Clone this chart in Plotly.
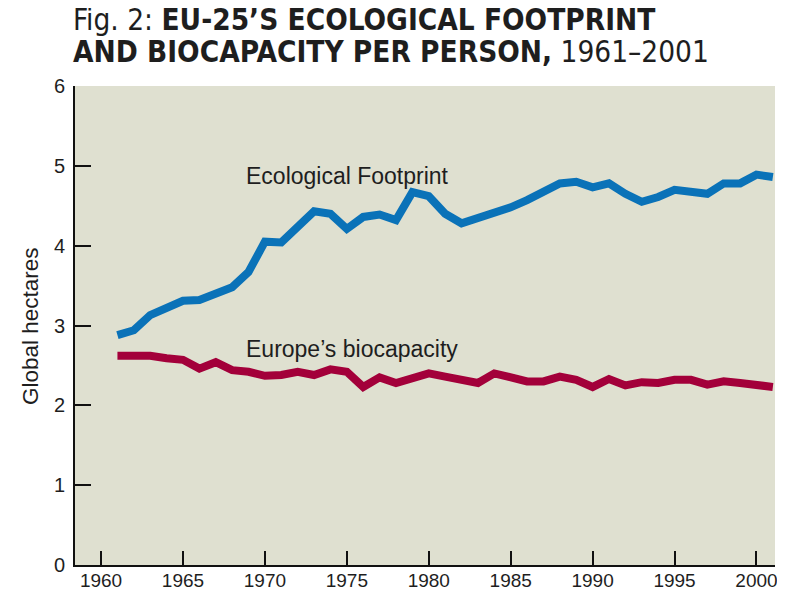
import plotly.graph_objs as go

years = list(range(1961, 2002))

# Ecological Footprint, global hectares per person
footprint = [2.88, 2.94, 3.13, 3.21, 3.31, 3.32, 3.40, 3.48, 3.67, 4.05,
             4.04, 4.25, 4.43, 4.40, 4.21, 4.36, 4.39, 4.32, 4.67, 4.62,
             4.40, 4.28, 4.34, 4.40, 4.48, 4.57, 4.67, 4.78, 4.80, 4.73,
             4.78, 4.65, 4.55, 4.61, 4.70, 4.68, 4.65, 4.78, 4.78, 4.89,
             4.86]

# Europe's biocapacity
biocapacity = [2.62, 2.62, 2.62, 2.59, 2.57, 2.46, 2.54, 2.44, 2.42, 2.37,
               2.38, 2.42, 2.38, 2.45, 2.42, 2.23, 2.35, 2.28, 2.35, 2.40,
               2.36, 2.33, 2.28, 2.40, 2.35, 2.30, 2.30, 2.36, 2.32, 2.23,
               2.33, 2.25, 2.29, 2.28, 2.32, 2.32, 2.26, 2.30, 2.28, 2.26,
               2.23]

x_ticks = [1960, 1965, 1970, 1975, 1980, 1985, 1990, 1995, 2000]
y_ticks = [0, 1, 2, 3, 4, 5, 6]

BLUE = '#0a72b8'
RED = '#a3003a'
INK = '#1e1e1e'
FONT = 'Liberation Sans, Arial, sans-serif'
NARROW = 'DejaVu Sans Condensed, Arial Narrow, sans-serif'

# the page body has an 8px margin, so the figure is a bit smaller than the window
fig = go.Figure()
fig.add_trace(go.Scatter(x=years, y=footprint, mode='lines', name='Ecological Footprint',
                         line=dict(color=BLUE, width=8)))
fig.add_trace(go.Scatter(x=years, y=biocapacity, mode='lines', name="Europe's biocapacity",
                         line=dict(color=RED, width=8)))

# series labels sit right on the plot
fig.add_annotation(x=1968.7, y=4.875, text='Ecological Footprint', showarrow=False,
                   xanchor='left', yanchor='middle', font=dict(family=FONT, size=23, color=INK))
fig.add_annotation(x=1968.7, y=2.70, text='Europe\u2019s biocapacity', showarrow=False,
                   xanchor='left', yanchor='middle', font=dict(family=FONT, size=23, color=INK))

# y-axis title placed by hand, like the original
fig.add_annotation(xref='paper', yref='paper', x=-45 / 700, y=(565 - 326) / 479,
                   text='Global hectares', textangle=-90, showarrow=False,
                   xanchor='center', yanchor='middle',
                   font=dict(family=FONT, size=22.5, color=INK))

# two-line title, left aligned with the axis
fig.add_annotation(xref='paper', yref='paper', x=-4 / 700, y=(565 - 20) / 479,
                   text='Fig. 2: <b>EU-25\u2019S ECOLOGICAL FOOTPRINT</b>', showarrow=False,
                   xanchor='left', yanchor='middle', font=dict(family=NARROW, size=29.5, color=INK))
fig.add_annotation(xref='paper', yref='paper', x=-4 / 700, y=(565 - 52) / 479,
                   text='<b>AND BIOCAPACITY PER PERSON,</b> 1961\u20132001', showarrow=False,
                   xanchor='left', yanchor='middle', font=dict(family=NARROW, size=29.5, color=INK))

fig.update_layout(
    width=777, height=585,
    margin=dict(l=67, r=10, t=78, b=28),
    paper_bgcolor='white', plot_bgcolor='#dfe0d0',
    showlegend=False,
)
fig.update_xaxes(range=[1958.41, 2001.13], tickvals=x_ticks, ticks='inside', ticklen=14,
                 tickwidth=2, tickcolor='#111', showline=True, linecolor='#111', linewidth=2,
                 showgrid=False, zeroline=False, automargin=False, ticklabelstandoff=-3,
                 tickfont=dict(family=FONT, size=19, color=INK))
fig.update_yaxes(range=[0, 6], tickvals=y_ticks, ticks='inside', ticklen=16,
                 tickwidth=2, tickcolor='#111', showline=True, linecolor='#111', linewidth=2,
                 showgrid=False, zeroline=False, automargin=False, ticklabelstandoff=4,
                 tickfont=dict(family=FONT, size=20, color=INK))

fig.write_html('out.html')
